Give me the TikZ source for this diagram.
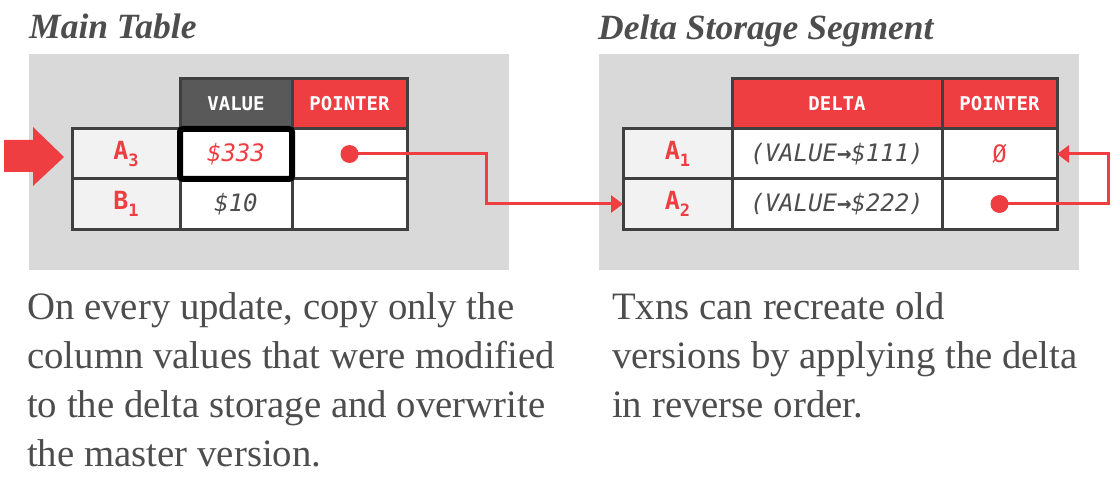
\documentclass[tikz,border=0pt]{standalone}
\usepackage{fontspec}
\setmainfont{Liberation Serif}
\newfontfamily\cellfont{DejaVu Sans Mono}
\usetikzlibrary{arrows.meta}
\definecolor{redc}{RGB}{239,62,66}
\definecolor{hdrdark}{RGB}{89,89,89}
\definecolor{bgray}{RGB}{217,217,217}
\definecolor{lblc}{RGB}{242,242,242}
\definecolor{bordc}{RGB}{64,64,64}
\definecolor{txtc}{RGB}{77,77,77}
\newcommand\mysub[1]{\raisebox{-0.3em}{\fontsize{17}{17}\selectfont #1}}
\begin{document}
\begin{tikzpicture}[x=1pt,y=-1pt,
  panel/.style={fill=bgray, draw=none},
  cell/.style={draw=bordc, line width=3pt, inner sep=0pt, outer sep=0pt, minimum height=50pt, fill=white,
    text=txtc, font=\cellfont\fontsize{24}{24}\selectfont\itshape},
  hdr/.style={cell, text=white, font=\cellfont\fontsize{19}{19}\selectfont\bfseries},
  lbl/.style={cell, fill=lblc, text=redc, font=\cellfont\fontsize{25}{25}\selectfont\bfseries},
  ttl/.style={anchor=base west, inner sep=0pt, text=txtc, font=\fontsize{35.5}{40}\selectfont\bfseries\itshape},
  body/.style={anchor=base west, inner sep=0pt, text=txtc, align=left, font=\fontsize{38.8}{49}\selectfont},
  ptr/.style={draw=redc, line width=3pt},
  dot/.style={circle, fill=redc, minimum size=18pt, inner sep=0pt},
  tip/.style={-{Triangle[length=12pt,width=17pt]}}
]
\useasboundingbox (0,0) rectangle (1120,484);

% panels
\fill[panel] (29,54) rectangle (509,270);
\fill[panel] (599,54) rectangle (1079,270);

% titles
\node[ttl] (t1) at (29,39) {Main Table};
\node[ttl] (t2) at (598,40) {Delta Storage Segment};

% main table
\node[hdr, fill=hdrdark, minimum width=112pt] (mhV) at (236,104) {VALUE};
\node[hdr, fill=redc, minimum width=115pt] (mhP) at (349.5,104) {POINTER};
\node[lbl, minimum width=108pt] (mA) at (126,154) {A\mysub{3}};
\node[cell, minimum width=112pt, text=redc] (mV1) at (236,154) {\$333};
\node[cell, minimum width=115pt] (mP1) at (349.5,154) {};
\node[lbl, minimum width=108pt] (mB) at (126,204) {B\mysub{1}};
\node[cell, minimum width=112pt] (mV2) at (236,204) {\$10};
\node[cell, minimum width=115pt] (mP2) at (349.5,204) {};
\draw[black, line width=6pt, rounded corners=3pt] (mV1.north west) rectangle (mV1.south east);

% delta table
\node[hdr, fill=redc, minimum width=210pt] (dhD) at (837,104) {DELTA};
\node[hdr, fill=redc, minimum width=115pt] (dhP) at (999.5,104) {POINTER};
\node[lbl, minimum width=109pt] (dA1) at (677.5,154) {A\mysub{1}};
\node[cell, minimum width=210pt] (dD1) at (837,154) {(VALUE{\bfseries→}\$111)};
\node[cell, minimum width=115pt, text=redc, font=\cellfont\fontsize{24}{24}\selectfont] (dP1) at (999.5,154) {Ø};
\node[lbl, minimum width=109pt] (dA2) at (677.5,204) {A\mysub{2}};
\node[cell, minimum width=210pt] (dD2) at (837,204) {(VALUE{\bfseries→}\$222)};
\node[cell, minimum width=115pt] (dP2) at (999.5,204) {};

% big arrow pointing at A3
\fill[redc] (4,140) -- (33,140) -- (33,127) -- (64,157) -- (33,186) -- (33,172) -- (4,172) -- cycle;

% pointers
\node[dot] (mdot) at (mP1.center) {};
\node[dot] (ddot) at (dP2.center) {};
\coordinate (mbend) at (486,0);
\coordinate (dbend) at (1108,0);
\draw[ptr, tip] (mdot.center) -- (mbend |- mdot.center) -- (mbend |- dA2.west) -- (dA2.west);
\draw[ptr, tip] (ddot.center) -- (dbend |- ddot.center) -- (dbend |- dP1.east) -- (dP1.east);

% captions (base anchor = baseline of last line)
\node[body] (c1) at (27,466) {On every update, copy only the\\column values that were modified\\to the delta storage and overwrite\\the master version.};
\node[body] (c2) at (612,417) {Txns can recreate old\\versions by applying the delta\\in reverse order.};
\end{tikzpicture}
\end{document}
